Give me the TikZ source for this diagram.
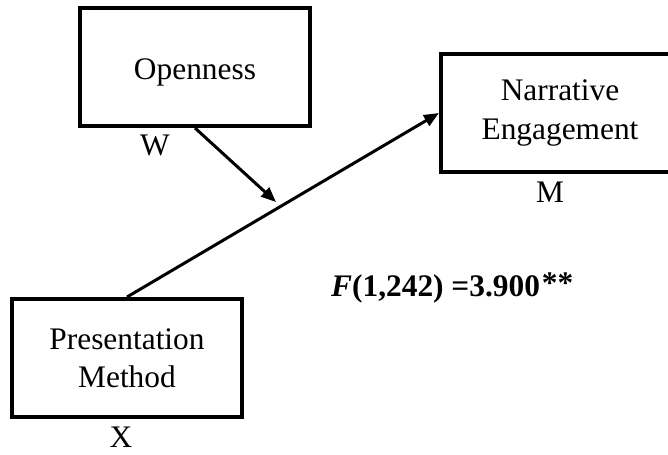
\documentclass[tikz,border=0pt]{standalone}
\usepackage{fontspec}
\setmainfont{Liberation Serif}
\usetikzlibrary{arrows.meta}
\begin{document}
\begin{tikzpicture}[x=1bp,y=-1bp,
  varbox/.style={draw,line width=4bp,minimum width=230bp,minimum height=118bp,
    inner sep=0pt,align=center,font=\fontsize{31.5}{38.5}\selectfont},
  tag/.style={font=\fontsize{31.5}{38}\selectfont,inner sep=0pt},
  effect/.style={line width=3bp,-{Triangle[length=15bp,width=12bp]}}]
\clip (0,0) rectangle (668,455);
% variables
\node[varbox,text height=27bp,text depth=1bp] (w) at (195,67) {Openness};
\node[varbox,minimum width=238bp] (m) at (560,113) {Narrative\\Engagement};
\node[varbox] (x) at (127,358) {Presentation\\Method};
% role labels
\node[tag] (wl) at (155,145) {W};
\node[tag] (ml) at (550,192) {M};
\node[tag] (xl) at (121,437) {X};
% paths
\coordinate (mod) at (276,202);
\draw[effect] (x.north) -- (m.west);
\draw[effect] (w.south) -- (mod);
% test statistic
\node[anchor=base west,inner sep=0pt,font=\fontsize{31.5}{38}\selectfont] (stat) at (331,297)
  {\textbf{\textit{F}(1,242) =3.900\hspace{2bp}\raisebox{3bp}{**}}};
\end{tikzpicture}
\end{document}
